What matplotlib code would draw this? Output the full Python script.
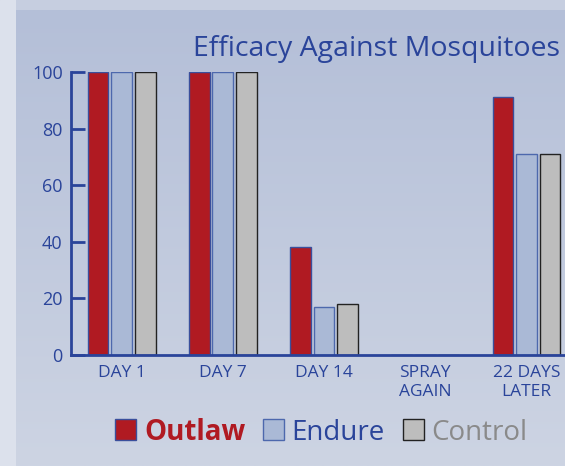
import matplotlib
matplotlib.use("Agg")
import matplotlib.pyplot as plt
from matplotlib.patches import Rectangle
import numpy as np

categories = ["DAY 1", "DAY 7", "DAY 14", "SPRAY\nAGAIN", "22 DAYS\nLATER"]
outlaw = [100, 100, 38, 0, 91]
endure = [100, 100, 17, 0, 71]
control = [100, 100, 18, 0, 71]
series_names = ["Outlaw", "Endure", "Control"]
yticks = [0, 20, 40, 60, 80, 100]

W, H = 565, 466
blue = "#2a449a"
red = "#b01a22"
lightblue = "#aab9d6"
gray = "#bdbdbd"

plt.rcParams['font.family'] = ['Open Sans', 'DejaVu Sans']

fig = plt.figure(figsize=(W / 100, H / 100), dpi=100)
fig.patch.set_facecolor("#c6cee0")

# left strip
strip = fig.add_axes([0, 0, 16 / W, 1])
strip.axis("off")
strip.add_patch(Rectangle((0, 0), 1, 1, color="#dce1ec", transform=strip.transAxes))

# panel with vertical gradient
bg = fig.add_axes([16 / W, 0, 1 - 16 / W, 1 - 10 / H])
bg.axis("off")
grad = np.linspace(0, 1, 256).reshape(-1, 1)
cmap = matplotlib.colors.LinearSegmentedColormap.from_list("bg", ["#b4bfd8", "#cdd4e3"])
bg.imshow(grad, aspect="auto", cmap=cmap, extent=[0, 1, 0, 1], origin="upper")
bg.set_xlim(0, 1)
bg.set_ylim(0, 1)

x0, x1 = 71, 565
y0, y1 = 355, 72
ax = fig.add_axes([x0 / W, 1 - y0 / H, (x1 - x0) / W, (y0 - y1) / H])
ax.patch.set_alpha(0)

x = np.arange(len(categories))
bw = 0.205
off = 0.233
ax.bar(x - off, outlaw, bw, color=red, edgecolor="#3a4f9c", linewidth=1)
ax.bar(x, endure, bw, color=lightblue, edgecolor="#4d68ad", linewidth=1)
ax.bar(x + off, control, bw, color=gray, edgecolor="#222222", linewidth=1)

ax.set_xlim(-0.5, (x1 - 121.5) / 101.25)
ax.set_ylim(0, 100)
ax.set_yticks(yticks)
ax.set_xticks(x)
ax.set_xticklabels(categories, linespacing=1.3)
for s in ["top", "right"]:
    ax.spines[s].set_visible(False)
for s in ["left", "bottom"]:
    ax.spines[s].set_color(blue)
    ax.spines[s].set_linewidth(2)
ax.tick_params(axis="y", direction="in", length=10, width=2, color=blue,
               labelcolor=blue, labelsize=13, pad=6)
ax.tick_params(axis="x", length=0, labelcolor=blue, labelsize=12.5, pad=7)
for lab in ax.get_xticklabels():
    lab.set_verticalalignment("top")

fig.text(560 / W, 1 - 56 / H, "Efficacy Against Mosquitoes", color=blue,
         fontsize=20.5, ha="right", va="baseline")

# legend
leg_y = 1 - 440 / H
sq = 21
items = [
    (115, red, "#3a4f9c", 144, series_names[0], red, "bold"),
    (263, lightblue, "#4d68ad", 291, series_names[1], blue, "normal"),
    (403, gray, "#222222", 431, series_names[2], "#8a8a8a", "normal"),
]
for sx, fc, ec, tx, name, tc, fw in items:
    fig.patches.append(Rectangle((sx / W, leg_y), sq / W, sq / H, facecolor=fc,
                                 edgecolor=ec, linewidth=1, transform=fig.transFigure,
                                 figure=fig))
    fig.text(tx / W, leg_y, name, color=tc, fontsize=20, fontweight=fw,
             ha="left", va="baseline")

fig.savefig("out.png", dpi=100)
